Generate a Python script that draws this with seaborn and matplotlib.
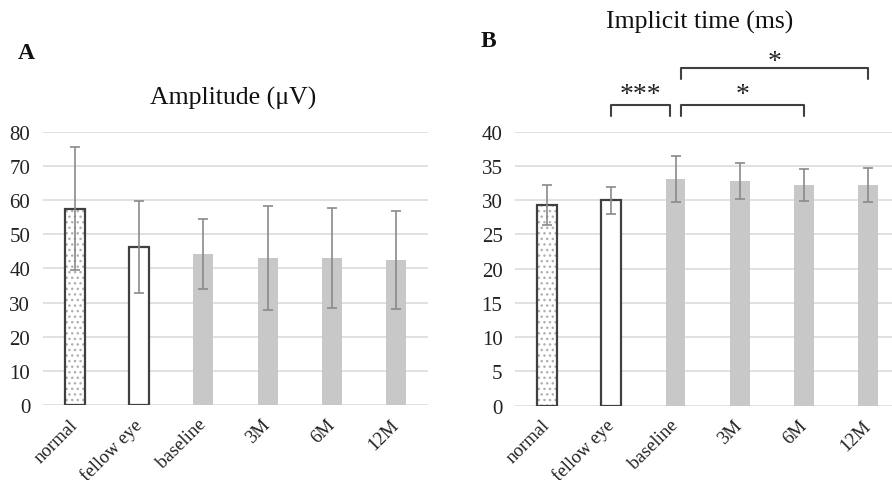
import matplotlib
matplotlib.use("Agg")
import matplotlib.pyplot as plt
import seaborn as sns
import pandas as pd
from matplotlib.patches import Rectangle

categories = ["normal", "fellow eye", "baseline", "3M", "6M", "12M"]
amp_mean = [57.5, 46.3, 44.2, 43.0, 43.1, 42.5]
amp_sd = [18.0, 13.5, 10.3, 15.3, 14.6, 14.3]
imp_mean = [29.3, 30.0, 33.1, 32.8, 32.2, 32.2]
imp_sd = [2.9, 2.0, 3.3, 2.6, 2.35, 2.5]
amp_ticks = [0, 10, 20, 30, 40, 50, 60, 70, 80]
imp_ticks = [0, 5, 10, 15, 20, 25, 30, 35, 40]
# significance brackets: (x_start, x_end, bracket_top, label, label_baseline)
brackets = [(1.0, 1.92, 43.9, "***", 44.55),
            (2.08, 4.0, 43.9, "*", 44.55),
            (2.08, 5.0, 49.25, "*", 49.25)]

sns.set_theme(style="white")
plt.rcParams["font.family"] = ["Liberation Serif", "DejaVu Serif"]

fig = plt.figure(figsize=(8.92, 4.81), dpi=100)
ax1 = fig.add_axes([0.0479, 0.156, 0.4323, 0.568])
ax2 = fig.add_axes([0.5774, 0.1545, 0.4318, 0.5696])

fills = ["white", "white", "#c8c8c8", "#c8c8c8", "#c8c8c8", "#c8c8c8"]

def draw(ax, means, sds, ticks, ymax):
    df = pd.DataFrame({"cat": categories, "val": means})
    sns.barplot(data=df, x="cat", y="val", hue="cat", palette=fills, legend=False,
                width=0.31, ax=ax, errorbar=None, linewidth=0, saturation=1)
    ax.errorbar(range(len(categories)), means, yerr=sds, fmt="none",
                ecolor="#8a8a8a", elinewidth=1.2, capsize=3.8, capthick=1.2, zorder=5)
    patches = ax.patches
    p0 = patches[0]
    p0.set_hatch("...")
    p0.set_edgecolor("#b0b0b0")
    p0.set_linewidth(0)
    for p in patches[:2]:
        r = Rectangle((p.get_x(), p.get_y()), p.get_width(), p.get_height(),
                      fill=False, edgecolor="#404040", linewidth=1.6, zorder=4)
        ax.add_patch(r)
    ax.set_ylim(0, ymax)
    ax.set_xlim(-0.5, len(categories) - 0.5)
    ax.set_yticks(ticks)
    ax.set_yticklabels([str(t) for t in ticks], fontsize=15, color="#222222")
    ax.set_xticks(range(len(categories)))
    ax.set_xticklabels(categories, rotation=45, ha="right", va="center",
                       rotation_mode="anchor", fontsize=13.5, color="#222222")
    ax.tick_params(axis="x", length=0, pad=12)
    ax.tick_params(axis="y", length=0, pad=9)
    ax.set_xlabel("")
    ax.set_ylabel("")
    ax.grid(axis="y", color="#d9d9d9", linewidth=1.1)
    ax.set_axisbelow(True)
    for s in ax.spines.values():
        s.set_visible(False)

draw(ax1, amp_mean, amp_sd, amp_ticks, 80)
draw(ax2, imp_mean, imp_sd, imp_ticks, 40)

for x0, x1, top, lab, ly in brackets:
    leg = 1.6
    ax2.plot([x0, x0, x1, x1], [top - leg, top, top, top - leg], color="#404040",
             linewidth=1.5, clip_on=False)
    ax2.text((x0 + x1) / 2, ly, lab, ha="center", va="baseline", fontsize=20,
             color="#222222", clip_on=False)

fig.text(0.261, 0.796, "Amplitude (μV)", ha="center", va="center", fontsize=18.5, color="#111111")
fig.text(0.784, 0.954, "Implicit time (ms)", ha="center", va="center", fontsize=18.5, color="#111111")
fig.text(0.029, 0.889, "A", ha="center", va="center", fontsize=17, fontweight="bold", color="#111111")
fig.text(0.548, 0.914, "B", ha="center", va="center", fontsize=17, fontweight="bold", color="#111111")

fig.savefig("out.png", dpi=100)
